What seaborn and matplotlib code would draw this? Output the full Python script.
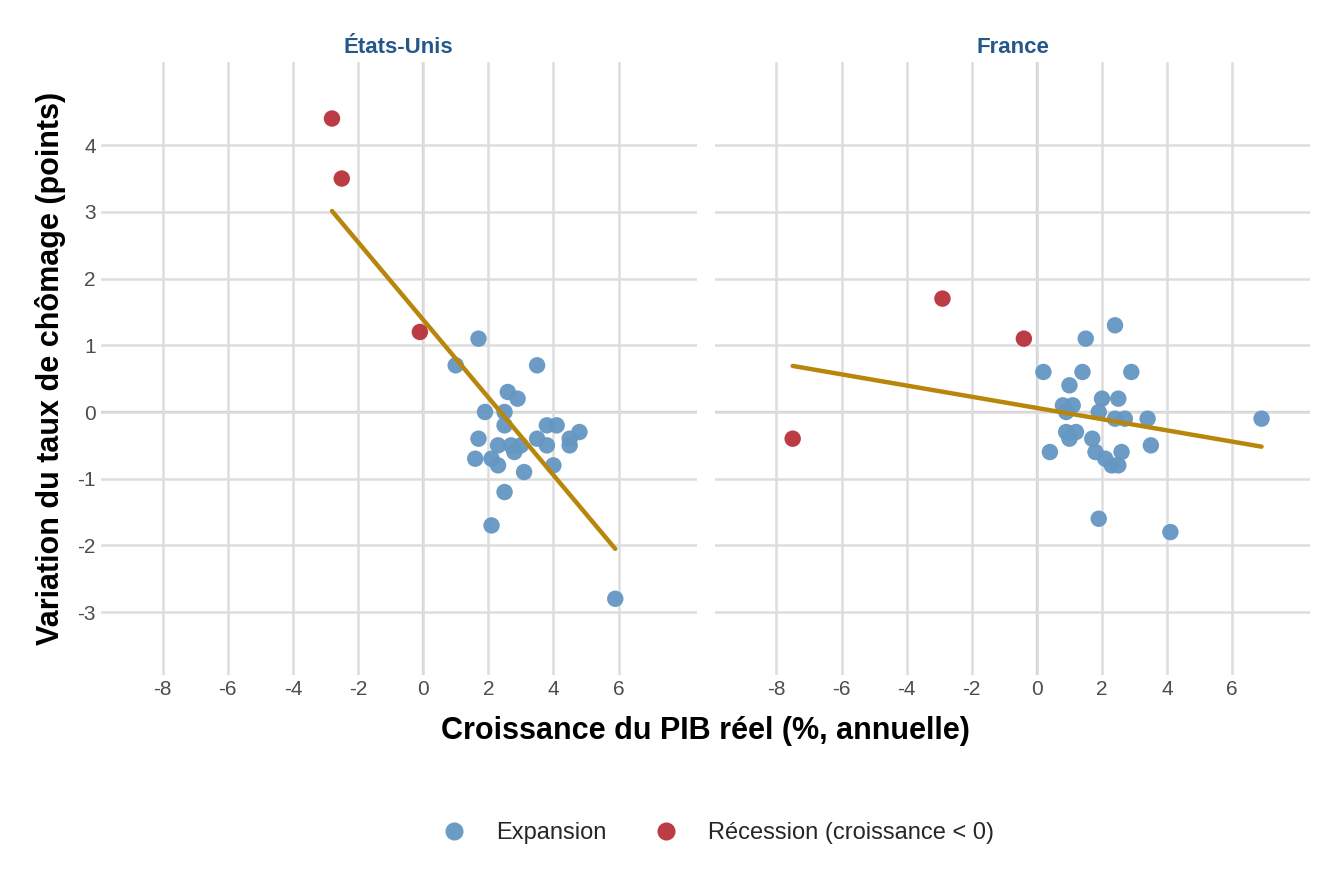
import numpy as np
import pandas as pd
import matplotlib.pyplot as plt
import seaborn as sns

# Données
us_x = [1.7, 1.0, 3.5, 2.6, 2.9, 1.9, 2.5, 2.5, 3.8, 4.1, 4.8, 4.5, 4.5, 1.7, 2.3, 2.7,
        3.0, 2.8, 3.5, 3.8, 1.6, 2.1, 2.3, 4.0, 3.1, 2.5, 2.1, 5.9, -2.8, -2.5, -0.1]
us_y = [1.1, 0.7, 0.7, 0.3, 0.2, 0.0, 0.0, -0.2, -0.2, -0.2, -0.3, -0.4, -0.5, -0.4, -0.5, -0.5,
        -0.5, -0.6, -0.4, -0.5, -0.7, -0.7, -0.8, -0.8, -0.9, -1.2, -1.7, -2.8, 4.4, 3.5, 1.2]
fr_x = [2.4, 1.5, 0.2, 1.4, 2.9, 1.0, 2.0, 2.5, 0.8, 1.1, 0.9, 1.9, 2.4, 2.7, 3.4, 0.9,
        1.2, 1.0, 1.7, 3.5, 0.4, 1.8, 2.6, 2.1, 2.3, 2.5, 1.9, 4.1, 6.9, -7.5, -2.9, -0.4]
fr_y = [1.3, 1.1, 0.6, 0.6, 0.6, 0.4, 0.2, 0.2, 0.1, 0.1, 0.0, 0.0, -0.1, -0.1, -0.1, -0.3,
        -0.3, -0.4, -0.4, -0.5, -0.6, -0.6, -0.6, -0.7, -0.8, -0.8, -1.6, -1.8, -0.1, -0.4, 1.7, 1.1]
pays = ['États-Unis', 'France']
lab_exp = 'Expansion'
lab_rec = 'Récession (croissance < 0)'

df = pd.concat([
    pd.DataFrame({'x': us_x, 'y': us_y, 'pays': pays[0]}),
    pd.DataFrame({'x': fr_x, 'y': fr_y, 'pays': pays[1]}),
])
df['phase'] = np.where(df['x'] < 0, lab_rec, lab_exp)

sns.set_theme(style='whitegrid')
plt.rcParams['font.family'] = ['Liberation Sans', 'DejaVu Sans']
plt.rcParams['axes.unicode_minus'] = False
palette = {lab_exp: '#6497c2', lab_rec: '#b8313b'}

fig, axes = plt.subplots(1, 2, figsize=(13.44, 8.83), dpi=100, sharey=True)
for ax, p in zip(axes, pays):
    d = df[df['pays'] == p]
    ax.axhline(0, color='#bbbbbb', lw=1.6, zorder=0)
    ax.axvline(0, color='#bbbbbb', lw=1.6, zorder=0)
    sns.scatterplot(data=d, x='x', y='y', hue='phase', palette=palette,
                    hue_order=[lab_exp, lab_rec], s=140, alpha=0.95,
                    edgecolor='none', ax=ax, legend=(p == pays[0]), zorder=3)
    sns.regplot(data=d, x='x', y='y', scatter=False, ci=None,
                color='#b8860b', line_kws={'lw': 3.2, 'zorder': 4}, ax=ax)
    ax.set_xlim(-9.9, 8.4)
    ax.set_ylim(-3.95, 5.25)
    ax.set_xticks(range(-8, 7, 2))
    ax.set_yticks(range(-3, 5))
    ax.grid(color='#dddddd', lw=1.8)
    for s in ax.spines.values():
        s.set_visible(False)
    ax.tick_params(labelsize=15, colors='#4d4d4d', length=0)
    ax.set_title(p, fontsize=16, fontweight='bold', color='#24578a')
    ax.set_xlabel('')
    ax.set_ylabel('')

handles, labels = axes[0].get_legend_handles_labels()
axes[0].get_legend().remove()
fig.legend(handles, labels, loc='lower center', ncol=2, frameon=False,
           fontsize=17, bbox_to_anchor=(0.53, 0.02), markerscale=1.1,
           columnspacing=1.5, handletextpad=0.8)
fig.supxlabel('Croissance du PIB réel (%, annuelle)', fontsize=22,
              fontweight='bold', x=0.525, y=0.155, color='black')
axes[0].set_ylabel('Variation du taux de chômage (points)', fontsize=22,
                   fontweight='bold', color='black', labelpad=8)
plt.subplots_adjust(left=0.075, right=0.975, top=0.93, bottom=0.235, wspace=0.03)
plt.savefig('out.png', dpi=100)
